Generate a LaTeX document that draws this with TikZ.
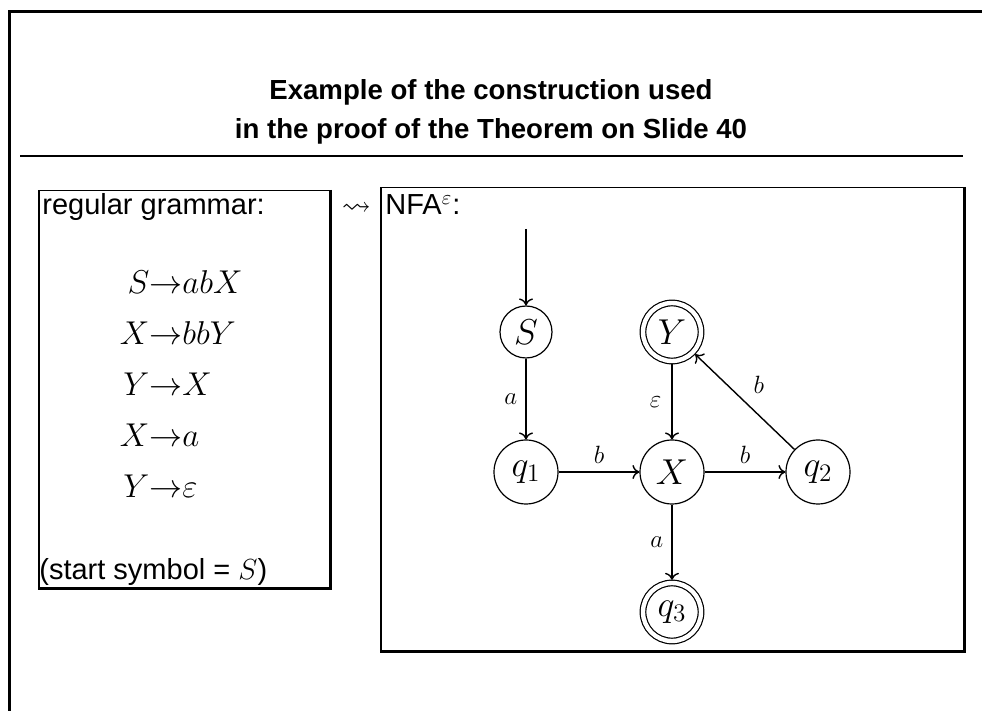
\RequirePackage{fix-cm}
\documentclass[tikz,border=0pt]{standalone}
\usepackage{amssymb}
\usepackage[no-math]{fontspec}
\setmainfont{Liberation Sans}
\usepackage{tikz}
\usetikzlibrary{positioning,arrows.meta,calc}
\newcommand{\statefont}{\fontsize{18}{20}\selectfont}
\newcommand{\labelfont}{\fontsize{12.5}{14}\selectfont}
\newcommand{\bodyfont}{\fontsize{14.5}{17}\selectfont}
\newcommand{\rulefont}{\fontsize{16.5}{17}\selectfont}
\tikzset{
  node-panel/.style={draw,line width=0.75pt,inner sep=0pt,anchor=north west},
  panel-edge/.style={line width=1.4pt},
  frame-line/.style={line width=1.5pt},
  rule-line/.style={line width=1.35pt},
  node-text/.style={inner sep=0pt,font=\bodyfont},
  node-state/.style={draw,circle,line width=0.6pt,minimum size=32pt,
    inner sep=0pt,font=\statefont},
  node-state-small/.style={minimum size=26pt},
  % akzeptierende Zustaende: Doppelkreis
  node-state-accept/.style={double,double distance=2.2pt,minimum size=29pt,
    outer sep=1.6pt},
  arrow/.style={-{Computer Modern Rightarrow[length=3.5pt,width=7pt]},
    line width=0.7pt},
  arrow-label/.style={inner sep=4pt,font=\labelfont},
}

\begin{document}
\begin{tikzpicture}[x=0.5pt,y=-0.5pt,node distance=70pt and 73pt]
  \useasboundingbox (0,0) rectangle (982,711);
  % Rahmen und Titel
  \draw[frame-line] (9,711) -- (9,11.5) -- (982,11.5);
  \node[node-text,anchor=north,align=center,
    font=\fontsize{13.8}{19.5}\selectfont\bfseries] (title) at (491,79)
    {Example of the construction used\\in the proof of the Theorem on Slide 40};
  \draw[rule-line] (20,156) -- (963,156);

  % Grammatik
  \node[node-panel,minimum width=145.5pt,minimum height=198.5pt]
    (gram) at (38,190) {};
  \draw[panel-edge] (gram.north east) -- (gram.south east) -- (gram.south west);
  \node[node-text,anchor=base west] (gram-head)
    at ($(gram.north west)+(4,25)$) {regular grammar:};
  \node[node-text,anchor=north,font=\rulefont] (gram-rules)
    at ($(gram.north)+(-3,67)$)
    {$\renewcommand{\arraystretch}{1.5}\begin{array}{r@{}c@{}l}
      S & \rightarrow & abX\\
      X & \rightarrow & bbY\\
      Y & \rightarrow & X\\
      X & \rightarrow & a\\
      Y & \rightarrow & \varepsilon
    \end{array}$};
  \node[node-text,anchor=base west] (gram-start)
    at ($(gram.south west)+(1,-9)$) {(start symbol = $S$)};

  % NFA
  \node[node-panel,minimum width=291.5pt,minimum height=231.5pt]
    (nfa) at (380,187) {};
  \draw[panel-edge] (nfa.north east) -- (nfa.south east) -- (nfa.south west);
  \node[node-text,anchor=base west] (nfa-head)
    at ($(nfa.north west)+(5,28)$) {NFA$^{\varepsilon}$:};
  \node[node-text,anchor=base] (leads)
    at ($(gram.north east)!0.5!(nfa.north west)+(1,26.5)$) {$\leadsto$};

  \begin{scope}[on grid]
    \node[node-state,node-state-small] (S) at (526,332) {$S$};
    \node[node-state,below=of S] (q1) {$q_1$};
    \node[node-state,right=of q1] (X) {$X$};
    \node[node-state,node-state-accept,above=of X] (Y) {$Y$};
    \node[node-state,right=of X] (q2) {$q_2$};
    \node[node-state,node-state-accept,below=of X] (q3) {$q_3$};
    \coordinate[above=51.5pt of S] (init);
  \end{scope}

  \draw[arrow] (init) -- (S);
  \draw[arrow] (S) -- node[arrow-label,left] {$a$} (q1);
  \draw[arrow] (q1) -- node[arrow-label,above] {$b$} (X);
  \draw[arrow] (Y) -- node[arrow-label,left,inner sep=5pt] {$\varepsilon$} (X);
  \draw[arrow] (X) -- node[arrow-label,above] {$b$} (q2);
  \draw[arrow] (q2) -- node[arrow-label,above right] {$b$} (Y);
  \draw[arrow] (X) -- node[arrow-label,left] {$a$} (q3);
\end{tikzpicture}
\end{document}
